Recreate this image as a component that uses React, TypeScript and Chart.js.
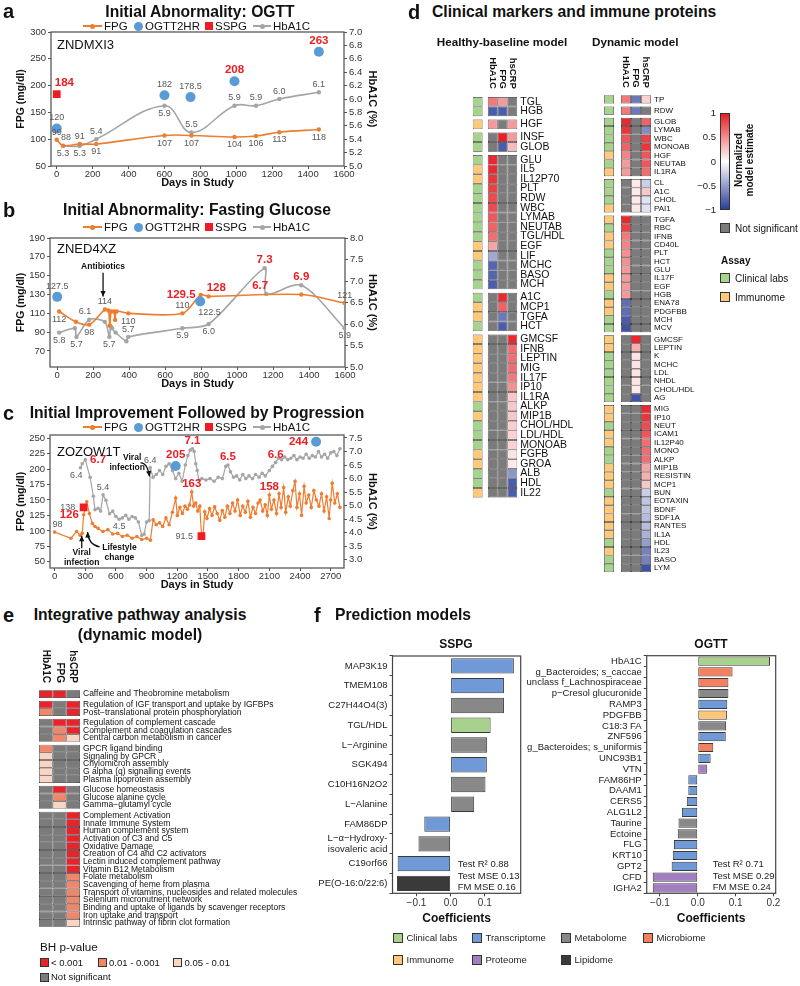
import React, { useEffect, useRef } from "react";
import { Chart, registerables } from "chart.js";

Chart.register(...registerables);
const FONT = "'Liberation Sans', Arial, Helvetica, sans-serif";
Chart.defaults.font.family = FONT;
Chart.defaults.color = "#333";

const ORANGE = "#ED7D31";
const BLUE = "#5B9BD5";
const RED = "#EE1D23";
const GRAY = "#A5A5A5";
const NSC = "#7B7B7B";
const CLIN = "#A6D48C";
const IMMU = "#FFC979";
const N = null;

// ---------------- Panel a ----------------
const aFpgDays = [0, 35, 128, 220, 600, 750, 990, 1110, 1240, 1460];
const aFpgVals = [99, 88, 91, 91, 107, 107, 104, 106, 113, 118];
const aFpgPos = ["a", "ar", "a", "b", "b", "b", "b", "b", "b", "b"];
const aHbDays = [35, 128, 220, 600, 750, 990, 1110, 1240, 1460];
const aHbVals = [5.3, 5.3, 5.4, 5.9, 5.5, 5.9, 5.9, 6.0, 6.1];
const aHbPos = ["b", "b", "a", "b", "a", "a", "a", "a", "a"];
const aOgttDays = [0, 600, 745, 990, 1460];
const aOgttVals = [120, 182, 178.5, 208, 263];
const aOgttPos = ["a", "a", "a", "!a", "!a"];
const aSspgDays = [0];
const aSspgVals = [184];
const aSspgPos = ["!ar"];
const aXTicks = [0, 200, 400, 600, 800, 1000, 1200, 1400, 1600];
const aYTicks = [50, 100, 150, 200, 250, 300];
const aY2Ticks = [5.0, 5.2, 5.4, 5.6, 5.8, 6.0, 6.2, 6.4, 6.6, 6.8, 7.0];

// ---------------- Panel b ----------------
const bFpgDays = [11, 104, 178, 265, 285, 292, 300, 315, 322, 330, 395, 696, 798, 842, 1357, 1598];
const bFpgVals = [112, 101, 98, 114, 113, 97, 112, 112, 103, 112, 110, 110, 129.5, 128, 130, 121];
const bFpgPos = ["b", "", "b", "a", "", "", "", "", "", "", "b", "a", "!l", "!ar", "", "a"];
const bHbDays = [11, 98, 107, 178, 265, 290, 297, 305, 325, 385, 395, 696, 842, 1153, 1162, 1357, 1598];
const bHbVals = [5.8, 5.9, 5.7, 6.1, 6.05, 5.7, 5.95, 5.9, 5.8, 5.6, 5.7, 5.9, 6.0, 7.3, 6.7, 6.9, 5.9];
const bHbPos = ["b", "", "b", "al", "", "b", "", "", "", "", "a", "b", "b", "!a", "!al", "!a", "b"];
const bOgttDays = [0, 795];
const bOgttVals = [127.5, 122.5];
const bOgttPos = ["a", "br"];
const bSspgDays: number[] = [];
const bSspgVals: number[] = [];
const bSspgPos: string[] = [];
const bXTicks = [0, 200, 400, 600, 800, 1000, 1200, 1400, 1600];
const bYTicks = [70, 90, 110, 130, 150, 170, 190];
const bY2Ticks = [5.0, 5.5, 6.0, 6.5, 7.0, 7.5, 8.0];

// ---------------- Panel c ----------------
const cFpgDays = [
  0, 160, 215, 250, 270, 284, 315, 340, 370, 395,
  426, 473, 521, 568, 616, 663, 710, 758, 805, 852,
  900, 937, 963, 994, 1026, 1057, 1089, 1120, 1152, 1184,
  1200, 1225, 1250, 1275, 1300, 1320, 1341, 1360, 1380, 1400,
  1420, 1436, 1452, 1468, 1490, 1515, 1540, 1565, 1590, 1615,
  1640, 1665, 1690, 1715, 1740, 1765, 1790, 1815, 1840, 1865,
  1890, 1915, 1940, 1965, 1990, 2010, 2035, 2060, 2080, 2100,
  2120, 2145, 2170, 2195, 2215, 2240, 2260, 2285, 2305, 2330,
  2351, 2370, 2395, 2415, 2440, 2460, 2485, 2510, 2535, 2560,
  2585, 2610, 2635, 2660, 2685, 2700, 2715, 2740, 2765, 2790,
];
const cFpgVals = [
  98, 88, 99, 93, 96, 126, 147, 128, 112, 107,
  104, 99, 102, 95, 96, 91, 93, 88, 91, 86,
  88, 85, 118, 110, 113, 107, 121, 110, 130, 153,
  125, 138, 128, 140, 135, 142, 163, 140, 145, 132,
  140, 95, 92, 131, 120, 136, 125, 139, 128, 117,
  133, 122, 140, 128, 145, 132, 150, 125, 140, 130,
  148, 122, 138, 128, 145, 150, 132, 142, 125, 158,
  135, 150, 128, 160, 138, 170, 130, 155, 140, 165,
  180, 138, 160, 125, 172, 145, 158, 138, 165, 150,
  140, 160, 132, 155, 120, 150, 177, 145, 160, 138,
];
const cFpgLabelAt: Record<number, string> = { 0: "ar", 5: "!l", 36: "!a", 69: "!a" };
const cHbDays = [
  253, 270, 300, 347, 379, 395, 426, 450, 474, 502,
  537, 568, 600, 631, 663, 695, 726, 758, 790, 820,
  852, 875, 900, 925, 935, 963, 994, 1026, 1057, 1089,
  1120, 1152, 1184, 1215, 1247, 1278, 1303, 1326, 1348, 1365,
  1380, 1395, 1410, 1440, 1480, 1520, 1560, 1600, 1640, 1674,
  1695, 1720, 1750, 1780, 1810, 1840, 1870, 1900, 1935, 1965,
  2000, 2030, 2060, 2100, 2130, 2162, 2190, 2220, 2250, 2280,
  2310, 2340, 2370, 2400, 2430, 2460, 2490, 2520, 2550, 2580,
  2610, 2640, 2670, 2700, 2730, 2760, 2790,
];
const cHbVals = [
  6.4, 6.55, 6.7, 6.05, 5.35, 4.85, 4.9, 4.8, 5.4, 5.2,
  4.7, 4.8, 4.6, 4.5, 4.55, 4.65, 4.5, 4.6, 4.55, 4.4,
  3.9, 3.95, 4.4, 4.45, 6.4, 6.05, 6.15, 6.3, 6.15, 6.45,
  6.55, 6.3, 6.0, 6.2, 5.9, 6.5, 6.85, 7.05, 7.1, 7.0,
  6.55, 6.3, 5.95, 6.0, 5.95, 6.0, 5.9, 6.05, 6.0, 6.45,
  6.5, 6.25, 6.05, 6.1, 5.95, 6.15, 6.0, 6.1, 6.0, 6.15,
  6.05, 6.2, 6.1, 6.3, 6.45, 6.6, 6.75, 6.7, 6.8, 6.7,
  6.75, 6.85, 6.7, 6.8, 6.75, 6.9, 6.75, 6.85, 6.8, 7.0,
  6.8, 6.9, 6.75, 6.95, 7.0, 6.85, 7.1,
];
const cHbLabelAt: Record<number, string> = { 0: "bl", 2: "!r", 8: "a", 13: "b", 24: "a", 38: "!a", 50: "!a", 65: "!a" };
const cOgttDays = [1184, 2557];
const cOgttVals = [205, 244];
const cOgttPos = ["!a", "!l"];
const cSspgDays = [284, 1436];
const cSspgVals = [138, 91.5];
const cSspgPos = ["l", "l"];
const cXTicks = [0, 300, 600, 900, 1200, 1500, 1800, 2100, 2400, 2700];
const cYTicks = [50, 75, 100, 125, 150, 175, 200, 225, 250];
const cY2Ticks = [3.0, 3.5, 4.0, 4.5, 5.0, 5.5, 6.0, 6.5, 7.0, 7.5];

// ---------------- Panel d ----------------
const dColumns = ["HbA1C", "FPG", "hsCRP"];
const dLeftNames = ["TGL", "HGB", "HGF", "INSF", "GLOB", "GLU", "IL5", "IL12P70", "PLT", "RDW", "WBC", "LYMAB", "NEUTAB", "TGL/HDL", "EGF", "LIF", "MCHC", "BASO", "MCH", "A1C", "MCP1", "TGFA", "HCT", "GMCSF", "IFNB", "LEPTIN", "MIG", "IL17F", "IP10", "IL1RA", "ALKP", "MIP1B", "CHOL/HDL", "LDL/HDL", "MONOAB", "FGFB", "GROA", "ALB", "HDL", "IL22"];
const dLeftGroups = [2, 1, 2, 14, 4, 17];
const dLeftAssay = ("CC" + "I" + "CC" + "CIICCCCCCIICCC" + "CIIC" + "IIIIIIICICCCIICCI").split("");
const dLeftHbA1c = [
  0.6, -0.85,
  0.45,
  N, N,
  0.95, 0.95, 0.9, 0.85, 0.8, 0.8, 0.75, 0.7, 0.65, 0.4, -0.45, -0.8, -0.8, -0.85,
  N, N, N, N,
  N, N, N, N, N, N, N, N, N, N, N, N, N, N, N, N, N,
];
const dLeftFpg = [
  0.45, -0.85,
  N,
  1.0, -0.85,
  N, N, N, N, N, N, N, N, N, N, N, N, N, N,
  0.95, 0.7, -0.7, -0.85,
  N, N, N, N, N, N, N, N, N, N, N, N, N, N, N, N, N,
];
const dLeftCrp = [
  N, N,
  0.45,
  0.45, 0.3,
  N, N, N, N, N, N, N, N, N, N, N, N, N, N,
  N, N, N, N,
  0.95, 0.65, 0.65, 0.65, 0.6, 0.5, 0.25, 0.25, 0.25, 0.22, 0.2, 0.2, 0.12, 0.1, -0.55, -0.85, -0.85,
];
const dRightNames = ["TP", "RDW", "GLOB", "LYMAB", "WBC", "MONOAB", "HGF", "NEUTAB", "IL1RA", "CL", "A1C", "CHOL", "PAI1", "TGFA", "RBC", "IFNB", "CD40L", "PLT", "HCT", "GLU", "IL17F", "EGF", "HGB", "ENA78", "PDGFBB", "MCH", "MCV", "GMCSF", "LEPTIN", "K", "MCHC", "LDL", "NHDL", "CHOL/HDL", "AG", "MIG", "IP10", "NEUT", "ICAM1", "IL12P40", "MONO", "ALKP", "MIP1B", "RESISTIN", "MCP1", "BUN", "EOTAXIN", "BDNF", "SDF1A", "RANTES", "IL1A", "HDL", "IL23", "BASO", "LYM"];
const dRightGroups = [1, 1, 7, 4, 14, 8, 20];
const dRightAssay = ("C" + "C" + "CCCCICI" + "CCCI" + "ICIICCCIICIICC" + "IICCCCCC" + "IICIICCIIICIIIIICICC").split("");
const dRightHbA1c = [
  0.6,
  0.6,
  0.95, 0.9, 0.75, 0.7, 0.55, 0.45, 0.45,
  N, N, N, N,
  0.95, 0.85, 0.6, 0.55, 0.5, 0.5, 0.45, 0.45, 0.45, 0.45, -0.75, -0.75, -0.85, -0.9,
  N, N, N, N, N, N, N, N,
  N, N, N, N, N, N, N, N, N, N, N, N, N, N, N, N, N, N, N, N,
];
const dRightFpg = [
  -0.7,
  -0.7,
  N, N, N, N, N, N, N,
  0.1, 0.1, 0.1, 0.1,
  N, N, N, N, N, N, N, N, N, N, N, N, N, N,
  0.95, 0.35, 0.12, 0.12, 0.12, 0.12, 0.1, -0.9,
  N, N, N, N, N, N, N, N, N, N, N, N, N, N, N, N, N, N, N, N,
];
const dRightCrp = [
  0.2,
  N,
  0.7, -0.6, 0.85, 0.9, 0.75, 0.75, 0.65,
  -0.25, 0.25, -0.15, -0.15,
  N, N, N, N, N, N, N, N, N, N, N, N, N, N,
  N, N, N, N, N, N, N, N,
  0.95, 0.9, 0.8, 0.75, 0.65, 0.65, 0.65, 0.4, 0.35, 0.25, -0.25, -0.3, -0.3, -0.35, -0.35, -0.4, -0.5, -0.65, -0.65, -0.9,
];
const dBarTicks = ["1", "0.5", "0", "−0.5", "−1"];

// ---------------- Panel e ----------------
const eNames = [
  "Caffeine and Theobromine metabolism",
  "Regulation of IGF transport and uptake by IGFBPs",
  "Post−translational protein phosphorylation",
  "Regulation of complement cascade",
  "Complement and coagulation cascades",
  "Central carbon metabolism in cancer",
  "GPCR ligand binding",
  "Signaling by GPCR",
  "Chylomicron assembly",
  "G alpha (q) signalling events",
  "Plasma lipoprotein assembly",
  "Glucose homeostasis",
  "Glucose alanine cycle",
  "Gamma−glutamyl cycle",
  "Complement Activation",
  "Innate Immune System",
  "Human complement system",
  "Activation of C3 and C5",
  "Oxidative Damage",
  "Creation of C4 and C2 activators",
  "Lectin induced complement pathway",
  "Vitamin B12 Metabolism",
  "Folate metabolism",
  "Scavenging of heme from plasma",
  "Transport of vitamins, nucleosides and related molecules",
  "Selenium micronutrient network",
  "Binding and uptake of ligands by scavenger receptors",
  "Iron uptake and transport",
  "Intrinsic pathway of fibrin clot formation",
];
const eGroups = [1, 2, 3, 5, 3, 15];
// 3: < 0.001, 2: 0.01-0.001, 1: 0.05-0.01, 0: not significant
const eHbA1c = [3, 3, 2, 0, 0, 0, 2, 1, 1, 1, 1, 0, 0, 0, 0, 0, 0, 0, 0, 0, 0, 0, 0, 0, 0, 0, 0, 0, 0];
const eFpg = [3, 0, 0, 3, 2, 2, 0, 0, 0, 0, 0, 3, 2, 1, 0, 0, 0, 0, 0, 0, 0, 0, 0, 0, 0, 0, 0, 0, 0];
const eCrp = [0, 3, 3, 3, 3, 1, 0, 0, 0, 0, 0, 0, 0, 0, 3, 3, 3, 3, 3, 3, 3, 3, 2, 2, 2, 2, 2, 2, 1];
const eLevelColors = [NSC, "#FBD5C4", "#F0866A", "#E8232A"];
const eLegend = ["< 0.001", "0.01 - 0.001", "0.05 - 0.01", "Not significant"];

// ---------------- Panel f ----------------
const OMICS: Record<string, string> = {
  C: "#A9D18E", T: "#7099D8", M: "#888888", B: "#F3805F", I: "#FFC878", P: "#A47EC2", L: "#3A3A3A",
};
const omicsLegend = [["C", "Clinical labs"], ["T", "Transcriptome"], ["M", "Metabolome"], ["B", "Microbiome"], ["I", "Immunome"], ["P", "Proteome"], ["L", "Lipidome"]];
const sspgNames: any[] = ["MAP3K19", "TMEM108", "C27H44O4(3)", "TGL/HDL", "L−Arginine", "SGK494", "C10H16N2O2", "L−Alanine", "FAM86DP", ["L−α−Hydroxy-", "isovaleric acid"], "C19orf66", "PE(O-16:0/22:6)"];
const sspgCoefs = [0.185, 0.156, 0.156, 0.117, 0.107, 0.106, 0.102, 0.069, -0.077, -0.094, -0.155, -0.157];
const sspgTypes = ["T", "T", "M", "C", "M", "T", "M", "M", "T", "M", "T", "L"];
const sspgTicks = [-0.1, 0, 0.1];
const ogttNames = ["HbA1C", "g_Bacteroides; s_caccae", "unclass f_Lachnospiraceae", "p−Cresol glucuronide", "RAMP3", "PDGFBB", "C18:3 FA", "ZNF596", "g_Bacteroides; s_uniformis", "UNC93B1", "VTN", "FAM86HP", "DAAM1", "CERS5", "ALG1L2", "Taurine", "Ectoine", "FLG", "KRT10", "GPT2", "CFD", "IGHA2"];
const ogttCoefs = [0.191, 0.092, 0.081, 0.081, 0.078, 0.077, 0.075, 0.074, 0.041, 0.034, 0.024, -0.025, -0.025, -0.029, -0.042, -0.051, -0.053, -0.063, -0.066, -0.069, -0.119, -0.119];
const ogttTypes = ["C", "B", "B", "M", "T", "I", "M", "T", "B", "T", "P", "T", "T", "T", "T", "M", "M", "T", "T", "T", "P", "P"];
const ogttTicks = [-0.1, 0, 0.1, 0.2];

// ---------------- helpers ----------------
const RC = [232, 30, 36];
const BC = [43, 63, 155];
function divColor(v: number | null) {
  if (v === null || v === undefined) return NSC;
  const t = Math.min(1, Math.abs(v));
  const c = v >= 0 ? RC : BC;
  const m = (k: number) => Math.round(255 + (c[k] - 255) * t);
  return `rgb(${m(0)},${m(1)},${m(2)})`;
}
const posFromMap = (n: number, m: Record<number, string>) => Array.from({ length: n }, (_, i) => m[i] || "");

const boxPlugin = (color: string, lw: number) => ({
  id: "box",
  beforeDatasetsDraw(chart: any) {
    const { ctx, chartArea: a } = chart;
    ctx.save();
    ctx.strokeStyle = color;
    ctx.lineWidth = lw;
    ctx.strokeRect(a.left, a.top, a.right - a.left, a.bottom - a.top);
    ctx.restore();
  },
});

const pointLabels = {
  id: "pointLabels",
  afterDatasetsDraw(chart: any) {
    const ctx = chart.ctx;
    chart.data.datasets.forEach((ds: any, di: number) => {
      const spec: string[] | undefined = ds._p;
      if (!spec) return;
      const meta = chart.getDatasetMeta(di);
      spec.forEach((s, i) => {
        if (!s) return;
        const el: any = meta.data[i];
        if (!el) return;
        const red = s[0] === "!";
        const pos = red ? s.slice(1) : s;
        const v = ds.data[i].y;
        const txt = ds._dec >= 0 ? Number(v).toFixed(ds._dec) : String(v);
        const r = (el.options && el.options.radius) || 2;
        ctx.save();
        ctx.font = red ? `bold 11.5px ${FONT}` : `9px ${FONT}`;
        ctx.fillStyle = red ? RED : "#595959";
        ctx.textBaseline = "middle";
        let dx = 0, dy = 0;
        let al: any = "center";
        const vOff = r + (red ? 6 : 5.5);
        const hasV = pos.includes("a") || pos.includes("b");
        if (pos.includes("a")) dy = -vOff;
        if (pos.includes("b")) dy = vOff;
        if (pos.includes("l")) { al = "right"; dx = hasV ? 2 : -(r + 3); }
        if (pos.includes("r")) { al = "left"; dx = hasV ? -2 : r + 3; }
        ctx.textAlign = al;
        ctx.fillText(txt, el.x + dx, el.y + dy);
        ctx.restore();
      });
    });
  },
};

function annoPlugin(items: any[]) {
  return {
    id: "anno",
    afterDatasetsDraw(chart: any) {
      const { ctx } = chart;
      const xs = chart.scales.x, ys = chart.scales.y;
      ctx.save();
      ctx.fillStyle = "#111";
      ctx.strokeStyle = "#111";
      ctx.lineWidth = 1.3;
      items.forEach((it) => {
        if (it.t) {
          ctx.font = `bold 8.5px ${FONT}`;
          ctx.textAlign = "center";
          ctx.textBaseline = "middle";
          ctx.fillText(it.t, xs.getPixelForValue(it.x), ys.getPixelForValue(it.y));
        } else if (it.path) {
          const p = it.path.map((q: number[]) => [xs.getPixelForValue(q[0]), ys.getPixelForValue(q[1])]);
          ctx.beginPath();
          ctx.moveTo(p[0][0], p[0][1]);
          if (p.length === 3) ctx.quadraticCurveTo(p[1][0], p[1][1], p[2][0], p[2][1]);
          else for (let k = 1; k < p.length; k++) ctx.lineTo(p[k][0], p[k][1]);
          ctx.stroke();
          const n = p.length;
          const [x2, y2] = p[n - 1];
          const [x1, y1] = p[n - 2];
          const ang = Math.atan2(y2 - y1, x2 - x1);
          const L = 6;
          ctx.beginPath();
          ctx.moveTo(x2, y2);
          ctx.lineTo(x2 - L * Math.cos(ang - 0.45), y2 - L * Math.sin(ang - 0.45));
          ctx.lineTo(x2 - L * Math.cos(ang + 0.45), y2 - L * Math.sin(ang + 0.45));
          ctx.closePath();
          ctx.fill();
        }
      });
      ctx.restore();
    },
  };
}

type Ser = { d: number[]; v: number[]; p: string[] };
function lineChart(o: any) {
  const pts = (s: Ser) => s.d.map((d, i) => ({ x: d, y: s.v[i] }));
  const tickFont = { size: 9.5, family: FONT };
  const setTicks = (arr: number[]) => (s: any) => { s.ticks = arr.map((v) => ({ value: v })); };
  const grid = { display: true, drawOnChartArea: false, tickLength: 3, color: "#555" };
  return {
    type: "line",
    data: {
      datasets: [
        { label: "SSPG", data: pts(o.ss), yAxisID: "y", showLine: false, pointStyle: "rect", pointRadius: 5.5, pointBorderWidth: 0, backgroundColor: RED, borderColor: RED, _p: o.ss.p, _dec: -1 },
        { label: "OGTT2HR", data: pts(o.og), yAxisID: "y", showLine: false, pointRadius: 5, pointBorderWidth: 0, backgroundColor: BLUE, borderColor: BLUE, _p: o.og.p, _dec: -1 },
        { label: "FPG", data: pts(o.fpg), yAxisID: "y", borderColor: ORANGE, backgroundColor: ORANGE, borderWidth: o.lw, pointRadius: o.pr, pointBorderWidth: 0, tension: o.ten, _p: o.fpg.p, _dec: -1 },
        { label: "HbA1C", data: pts(o.hb), yAxisID: "y2", borderColor: GRAY, backgroundColor: GRAY, borderWidth: o.lw, pointRadius: o.pr, pointBorderWidth: 0, tension: o.ten, _p: o.hb.p, _dec: 1 },
      ],
    },
    options: {
      responsive: false,
      animation: false,
      events: [],
      layout: { padding: { top: o.pad, left: 0, right: 0, bottom: 0 } },
      plugins: { legend: { display: false }, tooltip: { enabled: false } },
      scales: {
        x: {
          type: "linear", min: o.xr[0], max: o.xr[1], afterBuildTicks: setTicks(o.xt),
          ticks: { font: tickFont, color: "#333", padding: 0, maxRotation: 0, autoSkip: false, callback: (v: any) => String(v) },
          grid, border: { display: false },
          title: { display: true, text: "Days in Study", font: { size: 11, weight: "bold" }, color: "#111", padding: { top: 0, bottom: o.xtp } },
          afterFit: (s: any) => { s.height = o.xH; },
        },
        y: {
          type: "linear", position: "left", min: o.yr[0], max: o.yr[1], afterBuildTicks: setTicks(o.yt),
          ticks: { font: tickFont, color: "#333", padding: 2, autoSkip: false, callback: (v: any) => String(v) },
          grid, border: { display: false },
          title: { display: true, text: "FPG (mg/dl)", font: { size: 10.5, weight: "bold" }, color: "#111", padding: { top: 15, bottom: 0 } },
          afterFit: (s: any) => { s.width = o.yW; },
        },
        y2: {
          type: "linear", position: "right", min: o.y2r[0], max: o.y2r[1], afterBuildTicks: setTicks(o.y2t),
          ticks: { font: tickFont, color: "#333", padding: 2, autoSkip: false, callback: (v: any) => Number(v).toFixed(1) },
          grid, border: { display: false },
          title: { display: true, text: "HbA1C (%)", font: { size: 11, weight: "bold" }, color: "#111", padding: { top: 16, bottom: 0 } },
          afterFit: (s: any) => { s.width = o.y2W; },
        },
      },
    },
    plugins: [boxPlugin("#595959", 1.3), pointLabels, annoPlugin(o.anno || [])],
  };
}

function heatChart(o: any) {
  const pos: number[] = [];
  let p = 0;
  o.groups.forEach((g: number) => {
    for (let k = 0; k < g; k++) pos.push(p++);
    p += o.gap;
  });
  const maxY = pos[pos.length - 1] + 0.5;
  const first = o.assay ? 1 + o.colGap : 0;
  const centers = o.cols.map((_: any, j: number) => first + j);
  const mk = (c: number, colors: string[]) => ({
    type: "bar",
    data: pos.map((y) => ({ x: [c - 0.5, c + 0.5], y })),
    backgroundColor: colors,
    borderColor: "#2E2E2E",
    borderWidth: 0.7,
    borderSkipped: false,
    grouped: false,
    barPercentage: 1,
    categoryPercentage: 1,
    inflateAmount: 0,
  });
  const datasets: any[] = o.cols.map((_: any, j: number) => mk(centers[j], o.colColors[j]));
  if (o.assay) datasets.push(mk(0, o.assay.map((a: string) => (a === "C" ? CLIN : IMMU))));
  const header = {
    id: "hdr",
    afterDraw(chart: any) {
      const { ctx } = chart;
      const xs = chart.scales.x;
      const top = chart.chartArea.top;
      o.cols.forEach((n: string, j: number) => {
        ctx.save();
        ctx.translate(xs.getPixelForValue(centers[j]), top - 3);
        ctx.rotate(Math.PI / 2);
        ctx.textAlign = "right";
        ctx.textBaseline = "middle";
        ctx.font = `bold ${o.headSize}px ${FONT}`;
        ctx.fillStyle = "#111";
        ctx.fillText(n, 0, 0);
        ctx.restore();
      });
    },
  };
  return {
    type: "bar",
    data: { datasets },
    options: {
      indexAxis: "y",
      responsive: false,
      animation: false,
      events: [],
      layout: { padding: o.pad },
      plugins: { legend: { display: false }, tooltip: { enabled: false } },
      scales: {
        x: { type: "linear", display: false, min: -0.5, max: centers[centers.length - 1] + 0.5 },
        y: {
          type: "linear", position: "right", reverse: true, min: -0.5, max: maxY,
          afterBuildTicks: (s: any) => { s.ticks = pos.map((v) => ({ value: v })); },
          ticks: { autoSkip: false, padding: 3, font: { size: o.labelSize, family: FONT }, color: "#111", callback: (_v: any, i: number) => o.names[i] },
          grid: { display: false, drawTicks: false },
          border: { display: false },
          afterFit: (s: any) => { s.width = o.yW; },
        },
      },
    },
    plugins: [header],
  };
}

function barChart(o: any) {
  return {
    type: "bar",
    data: {
      labels: o.names,
      datasets: [{
        data: o.vals,
        backgroundColor: o.types.map((t: string) => OMICS[t]),
        borderColor: "#3A3A3A",
        borderWidth: 1,
        borderSkipped: false,
        barPercentage: o.pct,
        categoryPercentage: 1,
      }],
    },
    options: {
      indexAxis: "y",
      responsive: false,
      animation: false,
      events: [],
      layout: { padding: o.pad },
      plugins: { legend: { display: false }, tooltip: { enabled: false } },
      scales: {
        x: {
          type: "linear", min: o.xr[0], max: o.xr[1],
          afterBuildTicks: (s: any) => { s.ticks = o.xt.map((v: number) => ({ value: v })); },
          ticks: { font: { size: 10 }, color: "#333", padding: 1, autoSkip: false, callback: (v: any) => (v < 0 ? "−" : "") + Math.abs(v).toFixed(1) },
          grid: { display: true, drawOnChartArea: false, tickLength: 3, color: "#444" },
          border: { display: false },
          title: { display: true, text: "Coefficients", font: { size: 12, weight: "bold" }, color: "#111", padding: { top: 0, bottom: 9 } },
          afterFit: (s: any) => { s.height = o.xH; },
        },
        y: {
          type: "category",
          grid: { display: true, drawOnChartArea: false, tickLength: 3, color: "#444" },
          border: { display: false },
          ticks: { font: { size: 9.5 }, color: "#222", padding: 2, autoSkip: false },
          afterFit: (s: any) => { s.width = o.yW; },
        },
      },
    },
    plugins: [boxPlugin("#444", 1.2)],
  };
}

function ChartBox({ x, y, w, h, make }: any) {
  const ref = useRef<HTMLCanvasElement>(null);
  useEffect(() => {
    const c = new Chart(ref.current as HTMLCanvasElement, make());
    return () => c.destroy();
  }, []);
  return <canvas ref={ref} width={w} height={h} style={{ position: "absolute", left: x, top: y, width: w, height: h }} />;
}

const Txt = ({ x, y, s = 12, b = false, a = "left", c = "#111", rot = 0, children }: any) => {
  const tx = a === "center" ? "-50%" : a === "right" ? "-100%" : "0";
  return (
    <div style={{ position: "absolute", left: x, top: y, transform: `translate(${tx},-50%)` + (rot ? ` rotate(${rot}deg)` : ""), fontSize: s, fontWeight: b ? 700 : 400, color: c, whiteSpace: "nowrap", lineHeight: 1.1, fontFamily: FONT }}>
      {children}
    </div>
  );
};
const Sq = ({ x, y, s, c }: any) => (
  <div style={{ position: "absolute", left: x, top: y - s / 2, width: s, height: s, background: c, border: "1px solid #333", boxSizing: "border-box" }} />
);
const Box = ({ x, y, w, h, c, r = 0 }: any) => (
  <div style={{ position: "absolute", left: x, top: y, width: w, height: h, background: c, borderRadius: r }} />
);

function SeriesLegend({ y }: any) {
  return (
    <>
      <Box x={83} y={y - 0.75} w={19} h={1.5} c={ORANGE} />
      <Box x={90} y={y - 2.5} w={5} h={5} c={ORANGE} r={3} />
      <Txt x={104} y={y} s={11.5}>FPG</Txt>
      <Box x={134} y={y - 4.5} w={9} h={9} c={BLUE} r={5} />
      <Txt x={145} y={y} s={11.5}>OGTT2HR</Txt>
      <Box x={204.5} y={y - 4} w={8} h={8} c={RED} />
      <Txt x={215} y={y} s={11.5}>SSPG</Txt>
      <Box x={253} y={y - 0.75} w={18} h={1.5} c={GRAY} />
      <Box x={259.5} y={y - 2.5} w={5} h={5} c={GRAY} r={3} />
      <Txt x={273} y={y} s={11.5}>HbA1C</Txt>
    </>
  );
}

export default function App() {
  const mkA = () => lineChart({
    fpg: { d: aFpgDays, v: aFpgVals, p: aFpgPos }, hb: { d: aHbDays, v: aHbVals, p: aHbPos },
    og: { d: aOgttDays, v: aOgttVals, p: aOgttPos }, ss: { d: aSspgDays, v: aSspgVals, p: aSspgPos },
    xr: [-32, 1600], xt: aXTicks, yr: [50, 300], yt: aYTicks, y2r: [5.0, 7.0], y2t: aY2Ticks,
    ten: 0.4, pr: 2.2, lw: 1.6, pad: 12, yW: 51, y2W: 51, xH: 29, xtp: 5.4, anno: [],
  });
  const mkB = () => lineChart({
    fpg: { d: bFpgDays, v: bFpgVals, p: bFpgPos }, hb: { d: bHbDays, v: bHbVals, p: bHbPos },
    og: { d: bOgttDays, v: bOgttVals, p: bOgttPos }, ss: { d: bSspgDays, v: bSspgVals, p: bSspgPos },
    xr: [-40, 1600], xt: bXTicks, yr: [53, 190], yt: bYTicks, y2r: [5.0, 8.0], y2t: bY2Ticks,
    ten: 0.3, pr: 2.2, lw: 1.6, pad: 38, yW: 50, y2W: 50, xH: 28, xtp: 4.4,
    anno: [{ t: "Antibiotics", x: 255, y: 160 }, { path: [[255, 153], [255, 128]] }],
  });
  const mkC = () => lineChart({
    fpg: { d: cFpgDays, v: cFpgVals, p: posFromMap(cFpgDays.length, cFpgLabelAt) },
    hb: { d: cHbDays, v: cHbVals, p: posFromMap(cHbDays.length, cHbLabelAt) },
    og: { d: cOgttDays, v: cOgttVals, p: cOgttPos }, ss: { d: cSspgDays, v: cSspgVals, p: cSspgPos },
    xr: [-45, 2830], xt: cXTicks, yr: [40, 255], yt: cYTicks, y2r: [2.7, 7.61], y2t: cY2Ticks,
    ten: 0, pr: 1.8, lw: 1.2, pad: 35, yW: 50, y2W: 51, xH: 27, xtp: 3.4,
    anno: [
      { t: "Viral", x: 758, y: 218 }, { t: "infection", x: 710, y: 202 },
      { path: [[840, 210], [905, 211], [928, 188]] },
      { t: "Viral", x: 265, y: 64 }, { t: "infection", x: 265, y: 48 },
      { path: [[265, 72], [265, 92]] },
      { t: "Lifestyle", x: 634, y: 73 }, { t: "change", x: 634, y: 56 },
      { path: [[440, 74], [330, 78], [322, 98]] },
    ],
  });
  const mkDL = () => heatChart({
    names: dLeftNames, groups: dLeftGroups, cols: dColumns,
    colColors: [dLeftHbA1c.map(divColor), dLeftFpg.map(divColor), dLeftCrp.map(divColor)],
    assay: dLeftAssay, colGap: 0.54, gap: 0.35, labelSize: 10.5, headSize: 9.5,
    pad: { left: 12.7, top: 41.8, right: 0, bottom: 8 }, yW: 77.7,
  });
  const mkDR = () => heatChart({
    names: dRightNames, groups: dRightGroups, cols: dColumns,
    colColors: [dRightHbA1c.map(divColor), dRightFpg.map(divColor), dRightCrp.map(divColor)],
    assay: dRightAssay, colGap: 0.7, gap: 0.35, labelSize: 8, headSize: 9.5,
    pad: { left: 12, top: 40.75, right: 0, bottom: 9.5 }, yW: 53,
  });
  const mkE = () => heatChart({
    names: eNames, groups: eGroups, cols: dColumns,
    colColors: [eHbA1c.map((l) => eLevelColors[l]), eFpg.map((l) => eLevelColors[l]), eCrp.map((l) => eLevelColors[l])],
    colGap: 0, gap: 0.365, labelSize: 8.5, headSize: 10,
    pad: { left: 9, top: 46, right: 0, bottom: 9 }, yW: 250,
  });
  const mkF1 = () => barChart({
    names: sspgNames, vals: sspgCoefs, types: sspgTypes, xr: [-0.17, 0.205], xt: sspgTicks,
    pad: { top: 8, right: 4.3, left: 0, bottom: 0 }, yW: 92.5, xH: 41.7, pct: 0.78,
  });
  const mkF2 = () => barChart({
    names: ogttNames, vals: ogttCoefs, types: ogttTypes, xr: [-0.135, 0.206], xt: ogttTicks,
    pad: { top: 7, right: 24.3, left: 0, bottom: 0 }, yW: 126.7, xH: 41.7, pct: 0.85,
  });

  const barTickY = [113, 137, 161.5, 186, 210];

  return (
    <div style={{ position: "absolute", left: 0, top: 0, width: 800, height: 986, background: "#fff", overflow: "hidden", fontFamily: FONT }}>
      <ChartBox x={0} y={20} w={395} h={175} make={mkA} />
      <ChartBox x={0} y={200} w={395} h={195} make={mkB} />
      <ChartBox x={0} y={400} w={395} h={195} make={mkC} />
      <ChartBox x={460} y={50} w={135} h={462} make={mkDL} />
      <ChartBox x={592} y={50} w={112} h={536} make={mkDR} />
      <ChartBox x={30} y={640} w={300} h={300} make={mkE} />
      <ChartBox x={300} y={648} w={225} h={287} make={mkF1} />
      <ChartBox x={520} y={648} w={280} h={287} make={mkF2} />

      {/* panel a */}
      <Txt x={3} y={11} s={20} b>a</Txt>
      <Txt x={200} y={12} s={15.7} b a="center">Initial Abnormality: OGTT</Txt>
      <SeriesLegend y={26} />
      <Txt x={57} y={45} s={13}>ZNDMXI3</Txt>
      {/* panel b */}
      <Txt x={3} y={210} s={20} b>b</Txt>
      <Txt x={197} y={210} s={15.7} b a="center">Initial Abnormality: Fasting Glucose</Txt>
      <SeriesLegend y={227} />
      <Txt x={57} y={249} s={13}>ZNED4XZ</Txt>
      {/* panel c */}
      <Txt x={3} y={413} s={20} b>c</Txt>
      <Txt x={197} y={413} s={15.7} b a="center">Initial Improvement Followed by Progression</Txt>
      <SeriesLegend y={427} />
      <Txt x={57} y={452} s={13}>ZOZOW1T</Txt>

      {/* panel d */}
      <Txt x={408} y={12} s={20} b>d</Txt>
      <Txt x={432} y={12} s={15.7} b>Clinical markers and immune proteins</Txt>
      <Txt x={502} y={42} s={11.7} b a="center">Healthy-baseline model</Txt>
      <Txt x={592} y={42} s={11.7} b>Dynamic model</Txt>
      <div style={{ position: "absolute", left: 720, top: 113, width: 10, height: 97, boxSizing: "border-box", border: "1px solid #333", background: `linear-gradient(to bottom, rgb(${RC.join(",")}) 0%, #ffffff 50%, rgb(${BC.join(",")}) 100%)` }} />
      {dBarTicks.map((t, i) => (
        <Txt key={t} x={716} y={barTickY[i]} s={9.5} a="right" c="#222">{t}</Txt>
      ))}
      <Txt x={738} y={160} s={10} b a="center" rot={-90}>Normalized</Txt>
      <Txt x={749} y={160} s={10} b a="center" rot={-90}>model estimate</Txt>
      <Sq x={720} y={227.5} s={10} c={NSC} />
      <Txt x={735} y={227.5} s={10}>Not significant</Txt>
      <Txt x={721} y={260} s={10} b>Assay</Txt>
      <Sq x={720} y={277.5} s={10} c={CLIN} />
      <Txt x={735} y={277.5} s={10}>Clinical labs</Txt>
      <Sq x={720} y={296.5} s={10} c={IMMU} />
      <Txt x={735} y={296.5} s={10}>Immunome</Txt>

      {/* panel e */}
      <Txt x={3} y={615} s={20} b>e</Txt>
      <Txt x={140} y={615} s={15.7} b a="center">Integrative pathway analysis</Txt>
      <Txt x={140} y={635} s={15.7} b a="center">(dynamic model)</Txt>
      <Txt x={40} y={947} s={11.7}>BH p-value</Txt>
      <Sq x={40} y={962.7} s={9} c={eLevelColors[3]} />
      <Txt x={51} y={962.7} s={9.5}>{eLegend[0]}</Txt>
      <Sq x={98} y={962.7} s={9} c={eLevelColors[2]} />
      <Txt x={109} y={962.7} s={9.5}>{eLegend[1]}</Txt>
      <Sq x={173} y={962.7} s={9} c={eLevelColors[1]} />
      <Txt x={184.5} y={962.7} s={9.5}>{eLegend[2]}</Txt>
      <Sq x={40} y={977.3} s={9} c={eLevelColors[0]} />
      <Txt x={51} y={977.3} s={9.5}>{eLegend[3]}</Txt>

      {/* panel f */}
      <Txt x={314} y={615} s={20} b>f</Txt>
      <Txt x={335} y={615} s={15.7} b>Prediction models</Txt>
      <Txt x={456} y={645} s={12} b a="center">SSPG</Txt>
      <Txt x={711} y={645} s={12} b a="center">OGTT</Txt>
      <Txt x={457.7} y={864.3} s={9.5} c="#222">Test R² 0.88</Txt>
      <Txt x={457.7} y={875.7} s={9.5} c="#222">Test MSE 0.13</Txt>
      <Txt x={457.7} y={887} s={9.5} c="#222">FM MSE 0.16</Txt>
      <Txt x={712.7} y={864.3} s={9.5} c="#222">Test R² 0.71</Txt>
      <Txt x={712.7} y={875.7} s={9.5} c="#222">Test MSE 0.29</Txt>
      <Txt x={712.7} y={887} s={9.5} c="#222">FM MSE 0.24</Txt>
      {omicsLegend.map(([k, name], i) => {
        const xs = [393, 472, 561, 643];
        const row = i < 4 ? 0 : 1;
        const col = i < 4 ? i : i - 4;
        const yy = row === 0 ? 938.3 : 960;
        return (
          <React.Fragment key={k}>
            <Sq x={xs[col]} y={yy} s={10} c={OMICS[k]} />
            <Txt x={xs[col] + 13.5} y={yy} s={9.5} c="#222">{name}</Txt>
          </React.Fragment>
        );
      })}
    </div>
  );
}
